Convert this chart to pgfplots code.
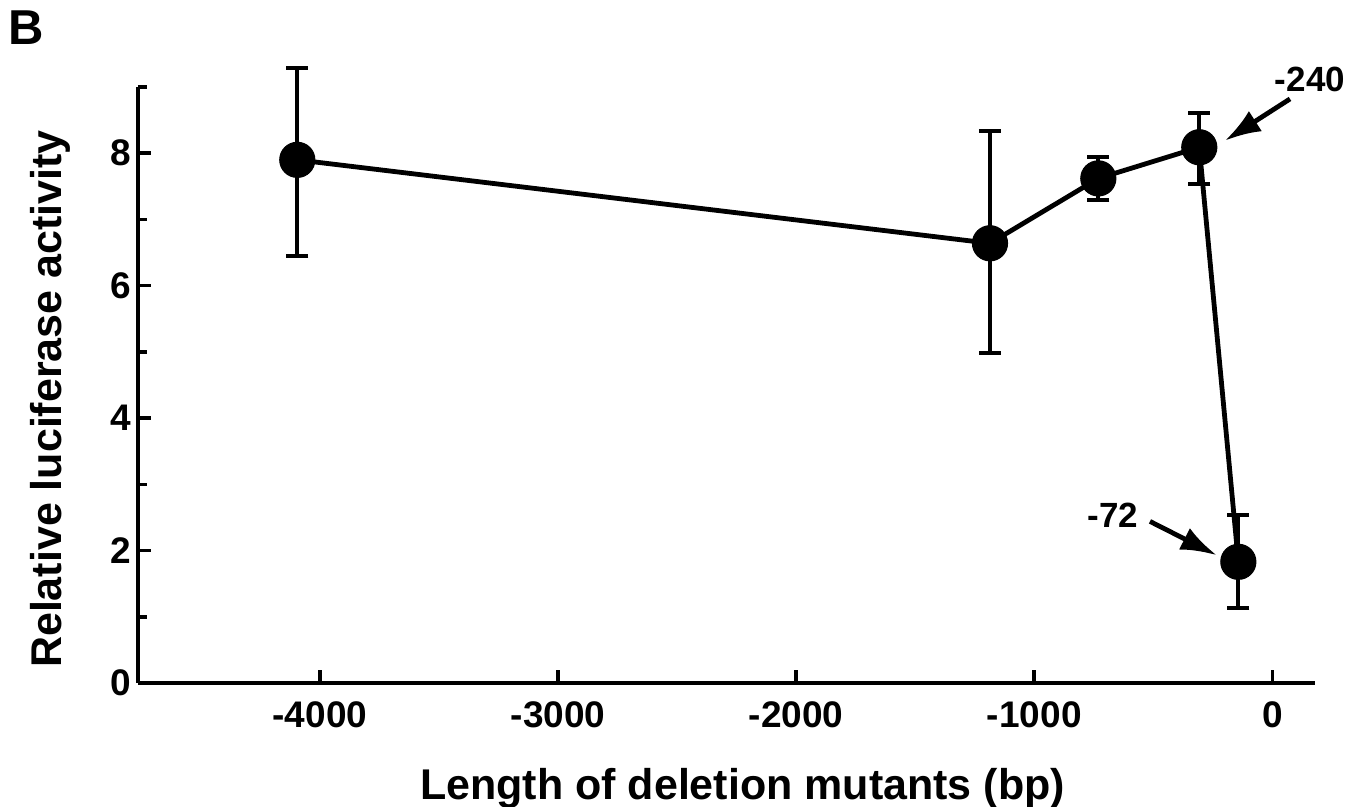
\documentclass[border=0pt]{standalone}
\usepackage{fontspec}
\setmainfont{Liberation Sans}
\usepackage{pgfplots}
\usepackage{pgfplotstable}
\pgfplotsset{compat=1.18}
\usetikzlibrary{arrows.meta}

\pgfplotstableread{
x y ep em
-4095 7.90 1.39 1.45
-1186 6.64 1.69 1.66
-731 7.62 0.33 0.32
-307 8.09 0.52 0.55
-143 1.83 0.70 0.70
}\datatable

\begin{document}
\begin{tikzpicture}
\path[use as bounding box] (-69pt,-62pt) rectangle (613pt,341.5pt);
\node[anchor=base west, inner sep=0pt, font=\bfseries\fontsize{24.5}{28}\selectfont] at (-65pt,319pt) {B};
\begin{axis}[
  at={(0pt,0pt)}, anchor=south west,
  scale only axis, width=588.5pt, height=298pt,
  xmin=-4764, xmax=179, ymin=0, ymax=9,
  axis x line=bottom, axis y line=left,
  axis line style={-, line width=2.2pt},
  xtick={-4000,-3000,-2000,-1000,0},
  xticklabels={-4000,-3000,-2000,-1000,0},
  ytick={0,2,4,6,8}, yticklabels={0,2,4,6,8},
  minor ytick={1,3,5,7,9},
  tick align=inside,
  major tick length=6.5pt, minor tick length=4.5pt,
  every tick/.style={black, line width=1.8pt},
  tick label style={font=\bfseries\fontsize{18.5}{21}\selectfont},
  xticklabel style={anchor=base, yshift=-22.3pt},
  xlabel={Length of deletion mutants (bp)},
  xlabel style={at={(axis description cs:0.5136,-0.1963)}, anchor=base, font=\bfseries\fontsize{21.5}{25}\selectfont},
  ylabel={Relative luciferase activity},
  ylabel style={at={(axis description cs:-0.0646,0.4765)}, anchor=base, font=\bfseries\fontsize{21.5}{25}\selectfont},
  clip=false,
]
\addplot[black, line width=2.4pt, mark=*, mark size=8.8pt,
  mark options={fill=black, line width=0.5pt},
  error bars/.cd, y dir=both, y explicit,
  error bar style={line width=2pt},
  error mark options={rotate=90, mark size=5.5pt, line width=2pt}]
  table[x=x, y=y, y error plus=ep, y error minus=em] {\datatable};
\node[font=\bfseries\fontsize{17.5}{20}\selectfont] at (axis cs:158,9.11) {-240};
\draw[line width=2.4pt, -{Latex[length=18pt,width=12pt]}] (axis cs:74,8.82) -- (axis cs:-199,8.19);
\node[font=\bfseries\fontsize{17.5}{20}\selectfont] at (axis cs:-669,2.54) {-72};
\draw[line width=2.4pt, -{Latex[length=18pt,width=12pt]}] (axis cs:-514,2.44) -- (axis cs:-234,1.93);
\end{axis}
\end{tikzpicture}
\end{document}
